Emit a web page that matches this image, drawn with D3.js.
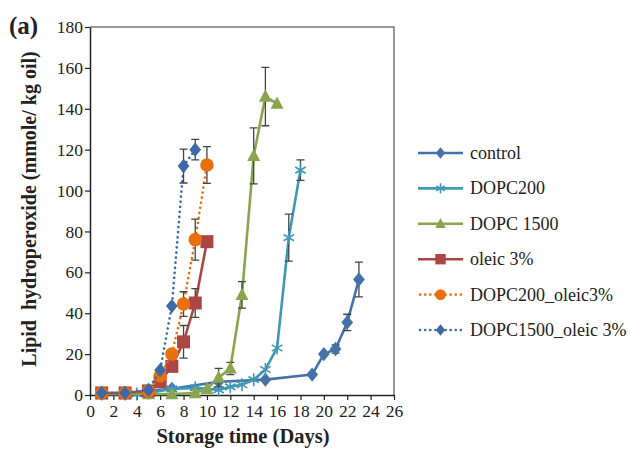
<!DOCTYPE html>
<html><head><meta charset="utf-8">
<script src="https://cdn.jsdelivr.net/npm/d3@7"></script>
<style>body{margin:0;background:#fff}svg{display:block}text{font-family:"Liberation Serif","Times New Roman",Times,serif !important}</style>
</head><body><svg id="c" width="630" height="450"></svg>
<script>
const xTicks = [0,2,4,6,8,10,12,14,16,18,20,22,24,26];
const yTicks = [0,20,40,60,80,100,120,140,160,180];

const controlDays = [1,3,5,7,11,15,19,20,21,22,23];
const controlVals = [1,1,2,3,6.5,7.5,10,20,22.5,35.5,56.5];
const controlErr  = [null,null,null,null,null,null,null,null,2,4,8.5];

const dopc200Days = [1,3,4,5,7,9,11,12,13,14,15,16,17,18];
const dopc200Vals = [0.5,0.5,0.5,1,3,3.5,2.5,4,5,7.5,12.5,23,77,110];
const dopc200Err  = [null,null,null,null,null,null,null,null,null,null,null,null,11.5,5];

const dopc1500Days = [1,3,5,7,9,10,11,12,13,14,15,16];
const dopc1500Vals = [0.5,0.5,0.5,0.5,1,3,8.5,13,49,117,146,142.5];
const dopc1500Err  = [null,null,null,null,null,null,4.5,3,6.5,13.7,14.3,null];

const oleicDays = [1,3,5,6,7,8,9,10];
const oleicVals = [1,1,2,6.5,14,26,45,75];
const oleicErr  = [null,null,null,null,null,8,7,null];

const d200oleicDays = [1,3,5,6,7,8,9,10];
const d200oleicVals = [1,1,2,9.3,20,44.5,76,112.5];
const d200oleicErr  = [null,null,null,null,null,6,10,9];

const d1500oleicDays = [1,3,5,6,7,8,9];
const d1500oleicVals = [1,1,2.5,12.2,43.5,112,120];
const d1500oleicErr  = [null,null,null,null,null,8.3,5];

const seriesNames = ["control","DOPC200","DOPC 1500","oleic 3%","DOPC200_oleic3%","DOPC1500_oleic 3%"];
const seriesColors = ["#4572A7","#4198B5","#89A54E","#AA4643","#E8700F","#3D6AA6"];
const seriesMarkers = ["diamond","asterisk","triangle","square","circle","diamond"];
const seriesDotted = [false,false,false,false,true,true];

const series = [
  {days:controlDays, vals:controlVals, err:controlErr},
  {days:dopc200Days, vals:dopc200Vals, err:dopc200Err},
  {days:dopc1500Days, vals:dopc1500Vals, err:dopc1500Err},
  {days:oleicDays, vals:oleicVals, err:oleicErr},
  {days:d200oleicDays, vals:d200oleicVals, err:d200oleicErr},
  {days:d1500oleicDays, vals:d1500oleicVals, err:d1500oleicErr}
].map((s,i)=>({...s,name:seriesNames[i],color:seriesColors[i],marker:seriesMarkers[i],dotted:seriesDotted[i]}));

const FONT = "'Liberation Serif','Times New Roman',Times,serif";
const svg = d3.select("#c");
const x = d3.scaleLinear().domain([0,26]).range([90,394]);
const y = d3.scaleLinear().domain([0,180]).range([395,27]);

svg.append("path").attr("d",`M${x(0)},${y(180)}H${x(26)}V${y(0)}`).attr("fill","none").attr("stroke","#777").attr("stroke-width",1.5);

const xa = svg.append("g").attr("transform",`translate(0,${y(0)})`)
  .call(d3.axisBottom(x).tickValues(xTicks).tickSize(5).tickSizeOuter(0));
const ya = svg.append("g").attr("transform",`translate(${x(0)},0)`)
  .call(d3.axisLeft(y).tickValues(yTicks).tickSize(5).tickSizeOuter(0));
[xa,ya].forEach(a=>{
  a.attr("font-family",FONT);
  a.selectAll("path.domain").attr("stroke","#222").attr("stroke-width",1.5);
  a.selectAll(".tick line").attr("stroke","#222").attr("stroke-width",1.2);
  a.selectAll("text").style("font-family",FONT).attr("font-size",17.5).attr("fill","#222");
});
xa.selectAll("text").attr("dy","0.9em").attr("y",6);
ya.selectAll("text").attr("x",-7);

function markerPath(type, s){
  const h=s/2;
  if(type==="diamond") return `M0,${-h*1.1}L${h*0.9},0L0,${h*1.1}L${-h*0.9},0Z`;
  if(type==="square") return `M${-h},${-h}H${h}V${h}H${-h}Z`;
  if(type==="triangle") return `M0,${-h*1.1}L${h},${h*0.8}L${-h},${h*0.8}Z`;
  if(type==="asterisk"){const a=h*0.8;return `M0,${-h}V${h}M${-a},${-a*0.6}L${a},${a*0.6}M${-a},${a*0.6}L${a},${-a*0.6}`;}
  return null;
}
function drawMarker(g, type, color, cx, cy, s){
  if(type==="circle"){
    g.append("circle").attr("cx",cx).attr("cy",cy).attr("r",s/2).attr("fill",color);
  } else if(type==="asterisk"){
    g.append("path").attr("transform",`translate(${cx},${cy})`).attr("d",markerPath(type,s))
      .attr("fill","none").attr("stroke",color).attr("stroke-width",1.6);
  } else {
    g.append("path").attr("transform",`translate(${cx},${cy})`).attr("d",markerPath(type,s)).attr("fill",color);
  }
}
const markerSize = {diamond:13,square:13,triangle:13,circle:13.5,asterisk:13};

const line = d3.line().x(d=>x(d[0])).y(d=>y(d[1]));
series.forEach(s=>{
  const g = svg.append("g");
  const pts = s.days.map((d,i)=>[d,s.vals[i]]);
  const p = g.append("path").attr("d",line(pts)).attr("fill","none").attr("stroke",s.color).attr("stroke-width",2.6);
  if(s.dotted) p.attr("stroke-dasharray","0.1 5").attr("stroke-linecap","round");
  else p.attr("stroke-linejoin","round");
  s.days.forEach((d,i)=>{
    const e=s.err[i]; if(e==null) return;
    const cx=x(d), y1=y(s.vals[i]+e), y2=y(s.vals[i]-e);
    g.append("path").attr("d",`M${cx},${y1}V${y2}M${cx-4},${y1}H${cx+4}M${cx-4},${y2}H${cx+4}`)
      .attr("stroke","#444").attr("stroke-width",1.3).attr("fill","none");
  });
  s.days.forEach((d,i)=>drawMarker(g,s.marker,s.color,x(d),y(s.vals[i]),markerSize[s.marker]));
});

const lg = svg.append("g");
series.forEach((s,i)=>{
  const yy = 153 + i*35.4;
  const l = lg.append("line").attr("x1",418).attr("x2",463).attr("y1",yy).attr("y2",yy).attr("stroke",s.color).attr("stroke-width",2.6);
  if(s.dotted) l.attr("stroke-dasharray","0.1 5").attr("stroke-linecap","round").attr("x1",420);
  drawMarker(lg,s.marker,s.color,440.5,yy,markerSize[s.marker]*0.8);
  lg.append("text").attr("x",470).attr("y",yy).attr("dy","0.33em").style("font-family",FONT).attr("font-size",18).attr("fill","#222").text(s.name);
});

svg.append("text").attr("x",9).attr("y",34).style("font-family",FONT).attr("font-size",25).attr("font-weight","bold").attr("fill","#222").text("(a)");
svg.append("text").attr("x",243).attr("y",443).attr("text-anchor","middle").style("font-family",FONT).attr("font-size",20.5).attr("font-weight","bold").attr("fill","#222").text("Storage time (Days)");
svg.append("text").attr("transform","translate(36,209) rotate(-90)").attr("text-anchor","middle").style("font-family",FONT).attr("font-size",20).attr("font-weight","bold").attr("fill","#222").style("white-space","pre").text("Lipid  hydroperoxide (mmole/ kg oil)");
</script></body></html>
